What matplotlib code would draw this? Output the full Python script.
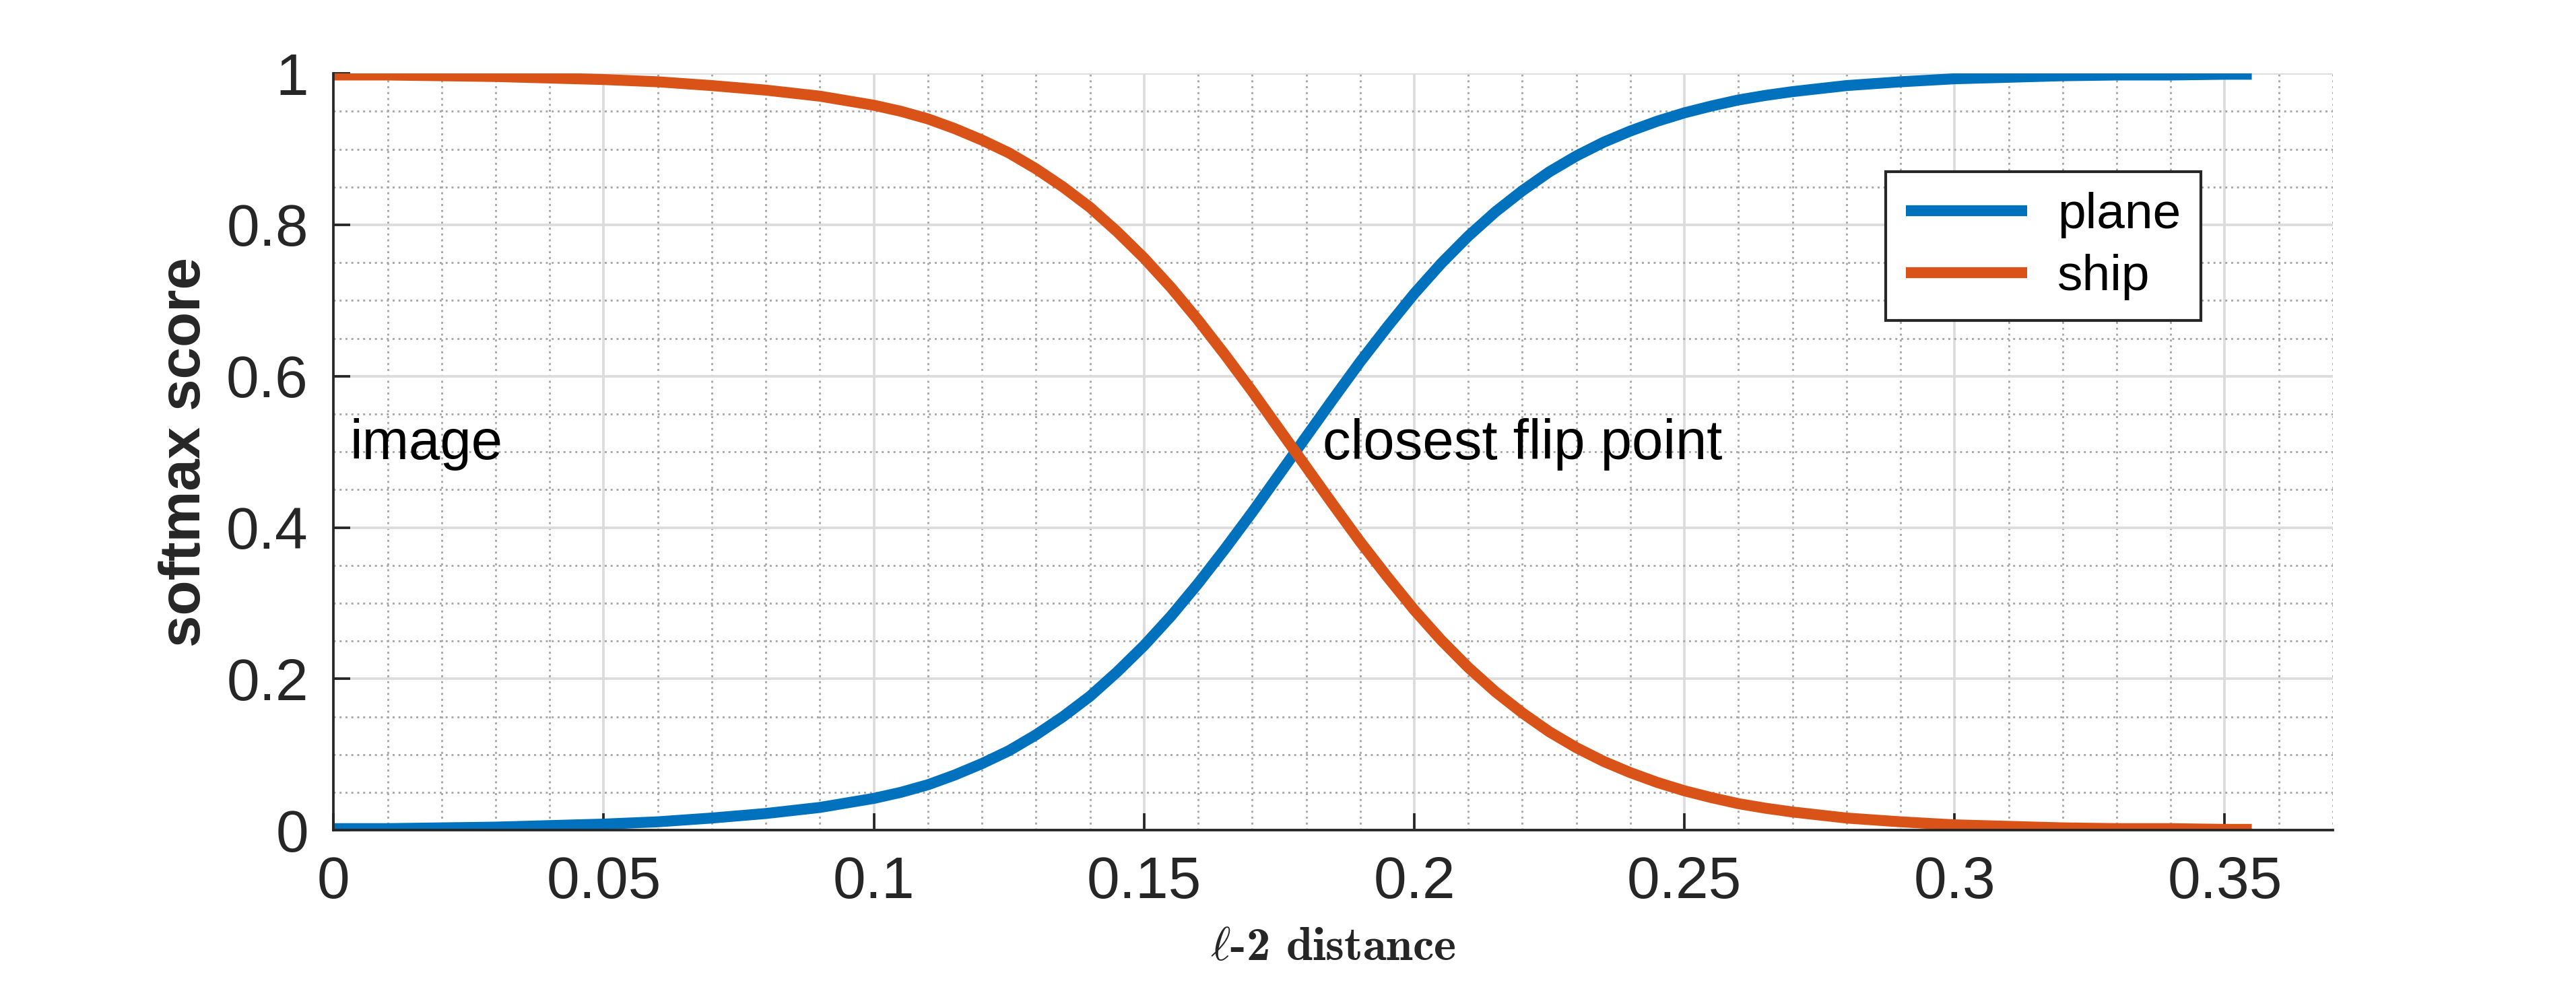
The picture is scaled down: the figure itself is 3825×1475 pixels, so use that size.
import matplotlib.pyplot as plt
import matplotlib.ticker as mticker

plt.rcParams['font.family'] = ['Liberation Sans', 'DejaVu Sans']
plt.rcParams['mathtext.fontset'] = 'cm'

dist = [0.00, 0.01, 0.02, 0.03, 0.04, 0.05, 0.06, 0.07, 0.08, 0.085,
        0.09, 0.095, 0.10, 0.105, 0.11, 0.115, 0.12, 0.125, 0.13, 0.135,
        0.14, 0.145, 0.15, 0.155, 0.16, 0.165, 0.17, 0.175, 0.18, 0.185,
        0.19, 0.195, 0.20, 0.205, 0.21, 0.215, 0.22, 0.225, 0.23, 0.235,
        0.24, 0.245, 0.25, 0.255, 0.26, 0.265, 0.27, 0.275, 0.28, 0.29,
        0.30, 0.31, 0.32, 0.33, 0.34, 0.35, 0.355]
plane = [0.002, 0.002, 0.003, 0.004, 0.006, 0.008, 0.011, 0.016, 0.022, 0.026,
         0.030, 0.036, 0.042, 0.050, 0.060, 0.073, 0.088, 0.105, 0.126, 0.150,
         0.177, 0.209, 0.244, 0.283, 0.326, 0.372, 0.420, 0.470, 0.520, 0.570,
         0.619, 0.665, 0.709, 0.749, 0.785, 0.817, 0.845, 0.870, 0.891, 0.909,
         0.924, 0.937, 0.948, 0.957, 0.965, 0.971, 0.976, 0.980, 0.984, 0.989,
         0.993, 0.995, 0.997, 0.998, 0.998, 0.999, 0.999]
ship = [0.998, 0.998, 0.997, 0.996, 0.994, 0.992, 0.989, 0.984, 0.978, 0.974,
        0.970, 0.964, 0.958, 0.950, 0.940, 0.927, 0.912, 0.895, 0.874, 0.850,
        0.823, 0.791, 0.756, 0.717, 0.674, 0.628, 0.580, 0.530, 0.480, 0.430,
        0.381, 0.335, 0.291, 0.251, 0.215, 0.183, 0.155, 0.130, 0.109, 0.091,
        0.076, 0.063, 0.052, 0.043, 0.035, 0.029, 0.024, 0.020, 0.016, 0.011,
        0.007, 0.005, 0.003, 0.002, 0.002, 0.001, 0.001]

fig = plt.figure(figsize=(12.75, 4.9167), dpi=300)
ax = fig.add_axes([0.1295, 0.164, 0.7761, 0.762])

ax.plot(dist, plane, color='#0072BD', linewidth=3.9, label='plane', solid_capstyle='butt')
ax.plot(dist, ship, color='#D95319', linewidth=3.9, label='ship', solid_capstyle='butt')

ax.set_xlim(0, 0.37)
ax.set_ylim(0, 1)
ax.xaxis.set_major_locator(mticker.MultipleLocator(0.05))
ax.xaxis.set_minor_locator(mticker.MultipleLocator(0.01))
ax.yaxis.set_major_locator(mticker.MultipleLocator(0.2))
ax.yaxis.set_minor_locator(mticker.MultipleLocator(0.05))
ax.xaxis.set_major_formatter(mticker.FormatStrFormatter('%g'))
ax.yaxis.set_major_formatter(mticker.FormatStrFormatter('%g'))

# Gitter wie in MATLAB: Haupt durchgezogen, Neben gepunktet
ax.grid(True, which='major', color='#dcdcdc', linewidth=0.9)
ax.grid(True, which='minor', color='#a8a8a8', linestyle=(0, (1, 2)), linewidth=0.7)
ax.set_axisbelow(True)

for s in ['top', 'right']:
    ax.spines[s].set_visible(False)
for s in ['left', 'bottom']:
    ax.spines[s].set_color('#262626')
    ax.spines[s].set_linewidth(0.9)

ax.tick_params(which='major', direction='in', length=6, width=0.9, colors='#262626',
               labelsize=21, pad=9)
ax.tick_params(which='minor', length=0)

ax.set_ylabel('softmax score', fontsize=20.5, fontweight='bold', color='#262626', labelpad=5)
ax.set_xlabel(r'$\ell$-2 distance', fontsize=17, color='#262626', labelpad=6,
              family=['cmb10', 'DejaVu Serif'])

ax.text(0.003, 0.51, 'image', fontsize=20, va='center', ha='left')
ax.text(0.183, 0.51, 'closest flip point', fontsize=20, va='center', ha='left')

leg = ax.legend(loc='upper right', bbox_to_anchor=(0.934, 0.87), borderaxespad=0,
                fontsize=18, fancybox=False, framealpha=1, edgecolor='#262626',
                handlelength=2.4, borderpad=0.4, labelspacing=0.3, handletextpad=0.6)
leg.get_frame().set_linewidth(1.0)

fig.savefig('out.png', dpi=300)
